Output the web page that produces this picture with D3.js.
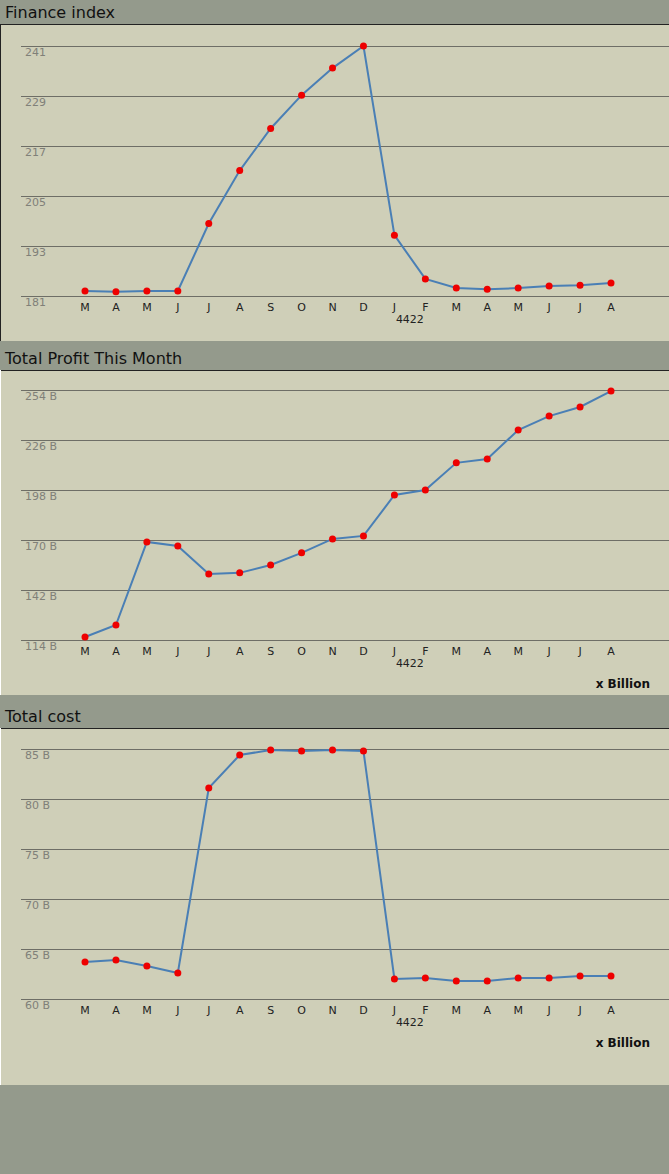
<!DOCTYPE html>
<html><head><meta charset="utf-8">
<script src="https://cdn.jsdelivr.net/npm/d3@7"></script>
<style>
body{margin:0;background:#949a8c;}
svg{display:block;font-family:"DejaVu Sans",Verdana,sans-serif;}
</style></head>
<body>
<svg id="chart" width="669" height="1174"></svg>
<script>
// data
const months = ["M","A","M","J","J","A","S","O","N","D","J","F","M","A","M","J","J","A"];
const financeIndex = [182.2,182.0,182.2,182.2,198.4,211.1,221.2,229.2,235.7,241,195.6,185.1,182.9,182.6,182.9,183.4,183.6,184.1];
const totalProfit = [115.7,122.4,168.9,166.7,151,151.6,156,162.8,170.6,172.3,195.2,198,213.2,215.4,231.6,239.4,244.5,253.4];
const totalCost = [63.7,63.9,63.3,62.6,81.1,84.4,84.9,84.8,84.9,84.8,62.0,62.1,61.8,61.8,62.1,62.1,62.3,62.3];
const financeTicks = [181,193,205,217,229,241];
const profitTicks = [114,142,170,198,226,254];
const costTicks = [60,65,70,75,80,85];

const panels = [
  {title:"Finance index", values:financeIndex, ticks:financeTicks, unit:"", top:0, bar:24, body:317, y0:296, note:false},
  {title:"Total Profit This Month", values:totalProfit, ticks:profitTicks, unit:" B", top:341, bar:29, body:325, y0:640, note:true},
  {title:"Total cost", values:totalCost, ticks:costTicks, unit:" B", top:695, bar:33, body:357, y0:999, note:true}
];

const svg = d3.select("#chart");
const x = d3.scalePoint().domain(d3.range(months.length)).range([85, 611]);

panels.forEach(p => {
  const g = svg.append("g").attr("transform", `translate(0,${p.top})`);
  // title bar
  g.append("rect").attr("width", 669).attr("height", p.bar).attr("fill", "#949a8c");
  g.append("text").attr("x", 5).attr("y", p.bar - 6)
    .attr("font-size", 16).attr("fill", "#111").text(p.title);
  // body
  const b = g.append("g").attr("transform", `translate(0,${p.bar})`);
  b.append("rect").attr("width", 669).attr("height", p.body).attr("fill", "#cfcfb8");
  b.append("line").attr("x1", 0).attr("x2", 669).attr("y1", 0.5).attr("y2", 0.5).attr("stroke", "#222");
  b.append("line").attr("x1", 0.5).attr("x2", 0.5).attr("y1", 0).attr("y2", p.body)
    .attr("stroke", p.top === 0 ? "#222" : "#fff");

  const yBottom = p.y0 - p.top - p.bar;
  const y = d3.scaleLinear().domain([p.ticks[0], p.ticks[p.ticks.length - 1]])
    .range([yBottom, yBottom - 250]);

  // grid + labels
  b.append("g").selectAll("line").data(p.ticks).join("line")
    .attr("x1", 21).attr("x2", 669)
    .attr("y1", d => Math.round(y(d)) + 0.5).attr("y2", d => Math.round(y(d)) + 0.5)
    .attr("stroke", "#6e6e66");
  b.append("g").selectAll("text").data(p.ticks).join("text")
    .attr("x", 25).attr("y", d => y(d) + 10)
    .attr("font-size", 11).attr("fill", "#808078")
    .text(d => d + p.unit);

  // x axis labels
  b.append("g").selectAll("text").data(months).join("text")
    .attr("x", (d, i) => x(i)).attr("y", yBottom + 15)
    .attr("text-anchor", "middle").attr("font-size", 11).attr("fill", "#222")
    .text(d => d);
  b.append("text").attr("x", (x(10) + x(11)) / 2).attr("y", yBottom + 27)
    .attr("text-anchor", "middle").attr("font-size", 11).attr("fill", "#222").text("4422");
  if (p.note) {
    b.append("text").attr("x", 650).attr("y", yBottom + 48)
      .attr("text-anchor", "end").attr("font-size", 12).attr("font-weight", "bold")
      .attr("fill", "#111").text("x Billion");
  }

  // line + dots
  b.append("path").datum(p.values)
    .attr("d", d3.line().x((d, i) => x(i)).y(d => y(d)))
    .attr("fill", "none").attr("stroke", "#4a7fb5").attr("stroke-width", 2);
  b.append("g").selectAll("circle").data(p.values).join("circle")
    .attr("cx", (d, i) => x(i)).attr("cy", d => y(d)).attr("r", 3.5)
    .attr("fill", "#ee0000");
});
</script>
</body></html>
